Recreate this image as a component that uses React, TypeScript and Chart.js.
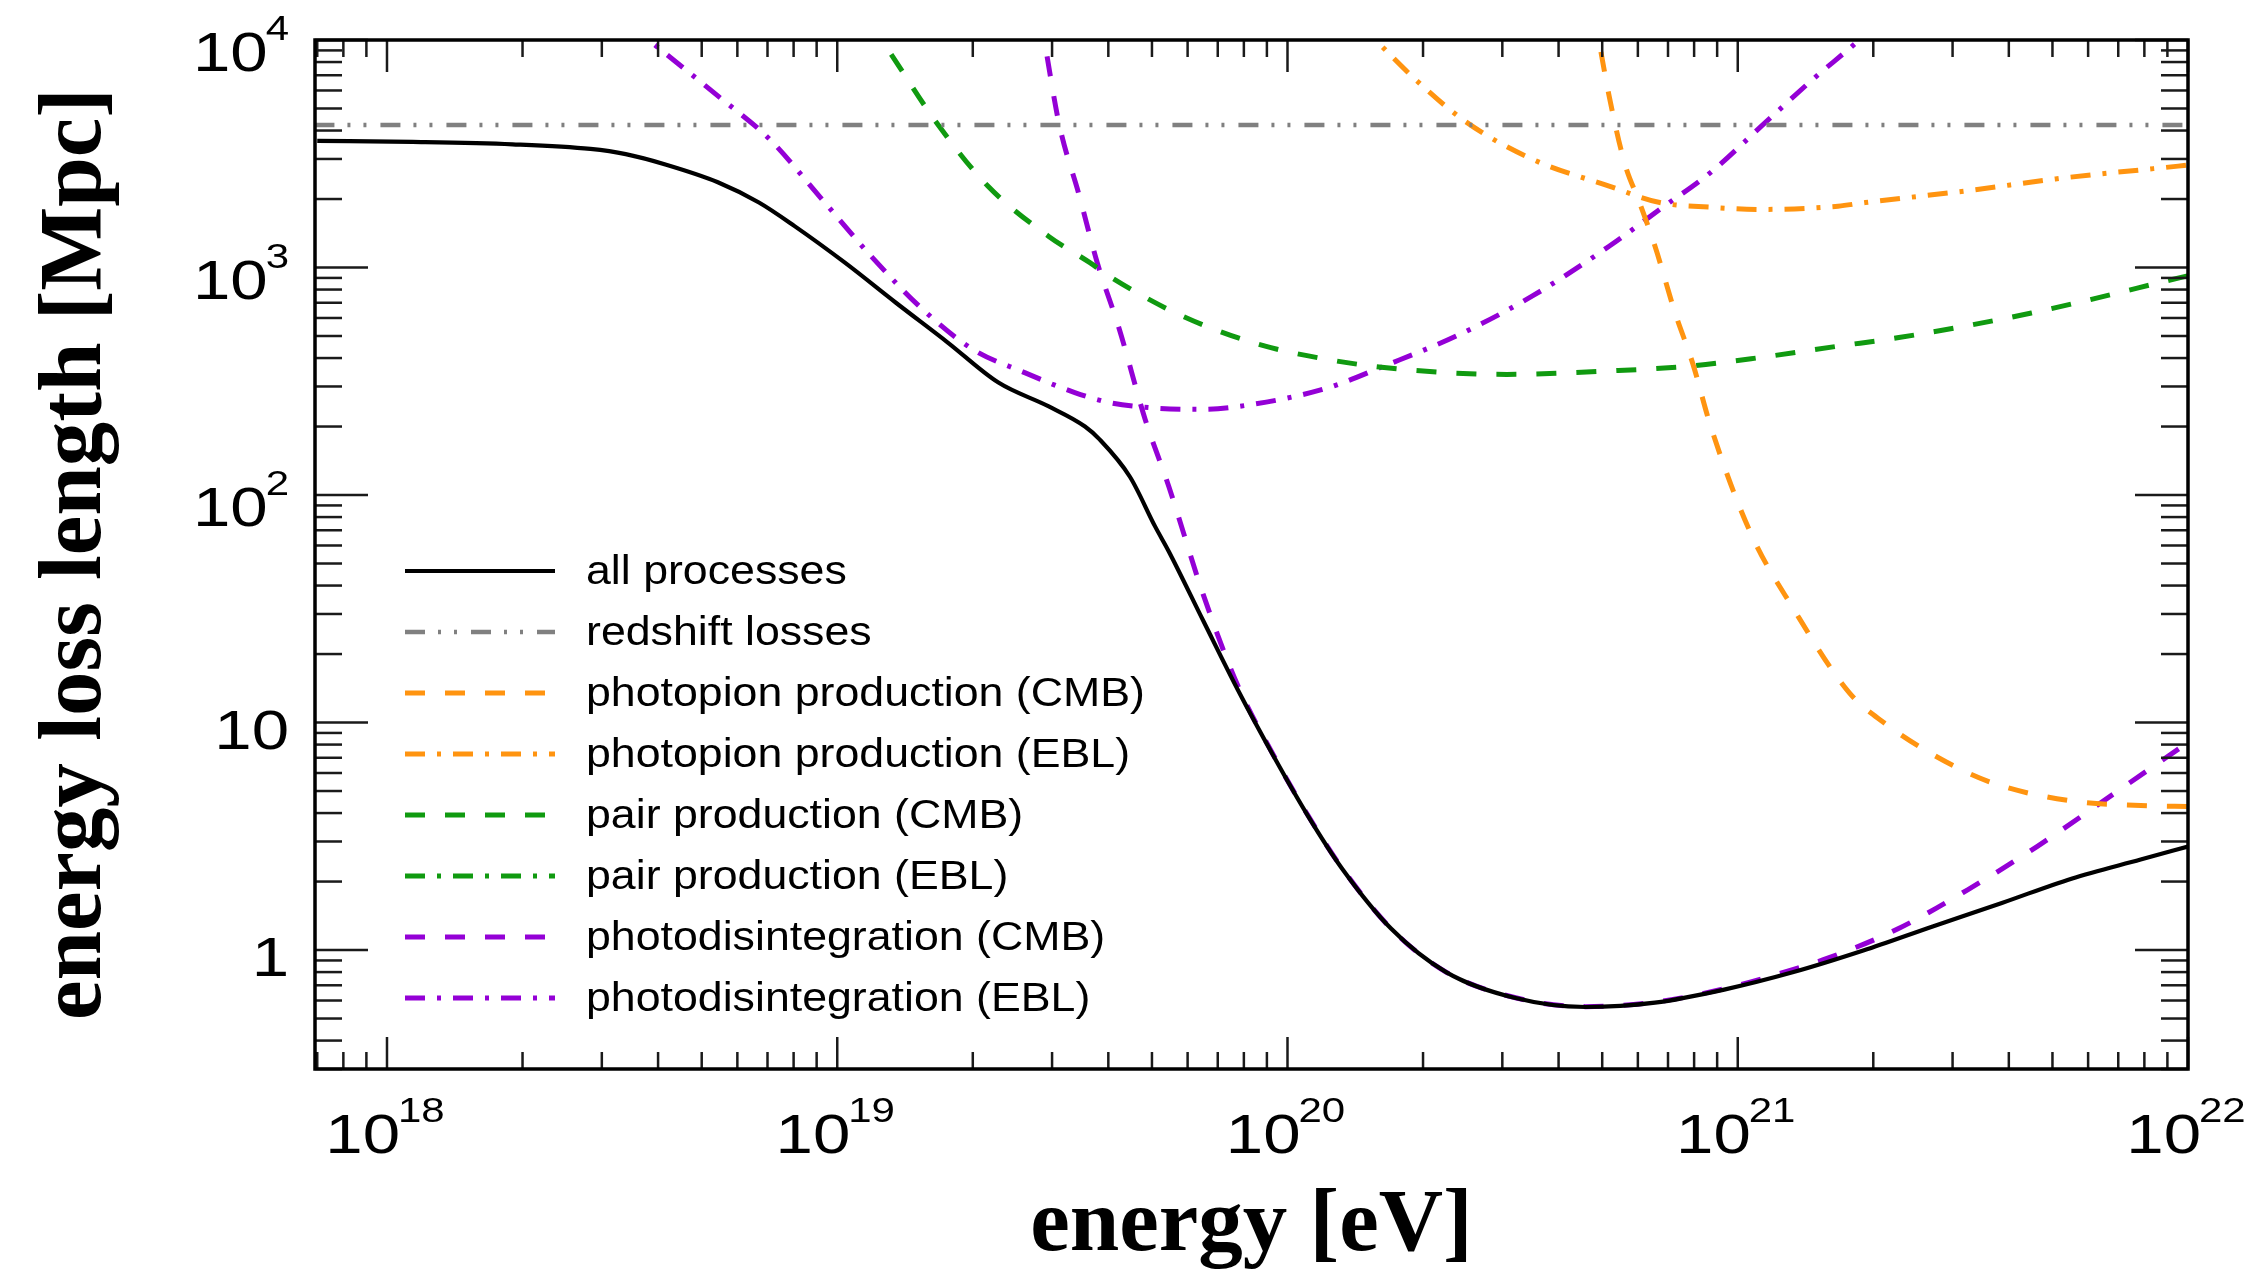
import React, { useEffect, useRef } from "react";
import { Chart, registerables } from "chart.js";

Chart.register(...registerables);

// ---------------- data (energy in eV, energy loss length in Mpc) ----------------
const allProcessesEnergy = [7.0e17, 1.14e18, 1.9e18, 2.83e18, 3.39e18, 4.17e18, 5.43e18, 6.7e18, 8.04e18, 1.04e19, 1.35e19, 1.76e19, 2.28e19, 2.95e19, 3.55e19, 3.82e19, 4.47e19, 5.08e19, 5.45e19, 6.5e19, 7.76e19, 9.29e19, 1.11e20, 1.32e20, 1.7e20, 2.25e20, 3.21e20, 4.59e20, 6.55e20, 9.33e20, 1.33e21, 1.9e21, 2.71e21, 3.86e21, 5.51e21, 7.85e21, 1e22];
const allProcessesLength = [3600, 3565, 3480, 3320, 3150, 2830, 2370, 1930, 1520, 1050, 700, 468, 312, 245, 200, 176, 120, 72.8, 56.5, 28, 13.9, 7.18, 3.89, 2.29, 1.24, 0.8, 0.615, 0.562, 0.587, 0.67, 0.8, 0.995, 1.27, 1.61, 2.06, 2.5, 2.85];

const redshiftEnergy = [6.9e17, 1e22];
const redshiftLength = [4235, 4235];

const photopionCmbEnergy = [4.79e20, 4.91e20, 5.18e20, 5.6e20, 6.05e20, 6.55e20, 7.26e20, 7.94e20, 8.71e20, 1.07e21, 1.33e21, 1.77e21, 2.11e21, 2.71e21, 3.61e21, 5.51e21, 7.85e21, 1e22];
const photopionCmbLength = [13200, 10070, 5680, 2900, 1930, 1240, 631, 380, 200, 67.6, 31.6, 13.5, 10, 7.24, 5.5, 4.52, 4.32, 4.27];

const photopionEblEnergy = [1.45e20, 1.55e20, 1.92e20, 2.49e20, 3.5e20, 5.18e20, 6.71e20, 8.71e20, 1.13e21, 1.67e21, 1.92e21, 3.2e21, 5.33e21, 9.51e21, 1e22];
const photopionEblLength = [11700, 10250, 6730, 4370, 2990, 2280, 1930, 1840, 1800, 1860, 1930, 2170, 2480, 2790, 2820];

const pairCmbEnergy = [1.17e19, 1.25e19, 1.67e19, 2.16e19, 2.95e19, 3.64e19, 4.02e19, 5.65e19, 8.36e19, 1.23e20, 1.82e20, 3.07e20, 5.18e20, 7.87e20, 1.13e21, 1.67e21, 2.28e21, 4.49e21, 1e22];
const pairCmbLength = [12000, 10070, 4270, 2280, 1370, 1050, 916, 631, 468, 394, 356, 339, 351, 369, 403, 451, 492, 631, 920];

// pair production on the EBL stays above the plotted range
const pairEblEnergy: number[] = [];
const pairEblLength: number[] = [];

const photodisCmbEnergy = [2.82e19, 2.88e19, 3.11e19, 3.45e19, 3.78e19, 4.23e19, 4.83e19, 5.45e19, 6.5e19, 7.76e19, 9.29e19, 1.11e20, 1.32e20, 1.7e20, 2.25e20, 3.21e20, 4.59e20, 6.55e20, 9.33e20, 1.33e21, 1.59e21, 2.27e21, 3.24e21, 4.62e21, 6.59e21, 1e22];
const photodisCmbLength = [12600, 10070, 4270, 2060, 1050, 537, 215, 109, 36.5, 14.5, 7.24, 3.91, 2.3, 1.24, 0.8, 0.617, 0.564, 0.59, 0.676, 0.822, 0.923, 1.24, 1.84, 2.85, 4.62, 8.18];

const photodisEblEnergy = [3.47e18, 3.77e18, 5.43e18, 7.08e18, 9.12e18, 1.19e19, 1.54e19, 2.0e19, 2.59e19, 3.37e19, 4.02e19, 4.95e19, 6.43e19, 8.32e19, 1.23e20, 1.64e20, 2.37e20, 3.5e20, 5.18e20, 6.71e20, 8.71e20, 1.13e21, 1.47e21, 1.85e21, 2.0e21];
const photodisEblLength = [11700, 10200, 5680, 3660, 2060, 1120, 661, 437, 347, 282, 255, 242, 238, 250, 296, 369, 500, 750, 1240, 1800, 2620, 4190, 6730, 9910, 11500];

const seriesLabels = [
  "all processes",
  "redshift losses",
  "photopion production (CMB)",
  "photopion production (EBL)",
  "pair production (CMB)",
  "pair production (EBL)",
  "photodisintegration (CMB)",
  "photodisintegration (EBL)",
];

const xTickValues = [1e18, 1e19, 1e20, 1e21, 1e22];
const xTickExponents = ["18", "19", "20", "21", "22"];
const yTickValues = [1, 10, 100, 1000, 10000];
const yTickBases = ["1", "10", "10", "10", "10"];
const yTickExponents = ["", "", "2", "3", "4"];

const xAxisTitle = "energy [eV]";
const yAxisTitle = "energy loss length [Mpc]";

// ---------------- styles ----------------
const ORANGE = "#ff9410";
const GREEN = "#109a10";
const PURPLE = "#9400d6";
const GRAY = "#808080";
const DASH = [20, 20];
const DASHDOT = [20, 12, 4, 12];
const DASHDOTDOT = [20, 13, 3, 13, 3, 14];

const SANS = "'Liberation Sans', Arial, Helvetica, sans-serif";
const SERIF = "'Liberation Serif', 'Times New Roman', serif";

const toPoints = (xs: number[], ys: number[]) => xs.map((x, i) => ({ x, y: ys[i] }));

const overlayPlugin = {
  id: "physicsOverlay",
  afterDatasetsDraw(chart: any) {
    const ctx: CanvasRenderingContext2D = chart.ctx;
    const a = chart.chartArea;
    const xs = chart.scales.x;
    const ys = chart.scales.y;
    ctx.save();
    ctx.setLineDash([]);

    const seg = (x1: number, y1: number, x2: number, y2: number) => {
      ctx.beginPath();
      ctx.moveTo(x1, y1);
      ctx.lineTo(x2, y2);
      ctx.stroke();
    };

    // inward ticks on all sides
    ctx.strokeStyle = "#1a1a1a";
    ctx.lineWidth = 2.5;
    for (let d = 17; d <= 22; d++) {
      for (let m = 1; m <= 9; m++) {
        const v = m * Math.pow(10, d);
        if (v < xs.min * 0.999 || v > xs.max * 1.001) continue;
        const px = xs.getPixelForValue(v);
        const len = m === 1 ? 32 : 17;
        seg(px, a.bottom, px, a.bottom - len);
        seg(px, a.top, px, a.top + len);
      }
    }
    for (let d = -1; d <= 4; d++) {
      for (let m = 1; m <= 9; m++) {
        const v = m * Math.pow(10, d);
        if (v < ys.min * 0.999 || v > ys.max * 1.001) continue;
        const py = ys.getPixelForValue(v);
        const len = m === 1 ? 53 : 27;
        seg(a.left, py, a.left + len, py);
        seg(a.right, py, a.right - len, py);
      }
    }

    // frame
    ctx.strokeStyle = "#000";
    ctx.lineWidth = 3.5;
    ctx.strokeRect(a.left, a.top, a.right - a.left, a.bottom - a.top);

    // tick labels
    ctx.fillStyle = "#000";
    ctx.textAlign = "left";
    ctx.textBaseline = "alphabetic";
    const HS = 1.2;
    const drawSci = (base: string, exp: string, x: number, y: number, align: string) => {
      ctx.font = `56px ${SANS}`;
      const wb = ctx.measureText(base).width * HS;
      ctx.font = `35px ${SANS}`;
      const gap = -2;
      const we = exp ? ctx.measureText(exp).width * HS + gap : 0;
      const total = wb + we;
      const x0 = align === "center" ? x - total / 2 : x - total;
      ctx.save();
      ctx.translate(x0, y);
      ctx.scale(HS, 1);
      ctx.font = `56px ${SANS}`;
      ctx.fillText(base, 0, 0);
      ctx.restore();
      if (exp) {
        ctx.save();
        ctx.translate(x0 + wb + gap, y - 31);
        ctx.scale(HS, 1);
        ctx.font = `35px ${SANS}`;
        ctx.fillText(exp, 0, 0);
        ctx.restore();
      }
    };
    xTickValues.forEach((v, i) => {
      const px = xs.getPixelForValue(v);
      drawSci("10", xTickExponents[i], px - 2, 1153, "center");
    });
    yTickValues.forEach((v, i) => {
      const py = ys.getPixelForValue(v);
      const hasExp = yTickExponents[i] !== "";
      drawSci(yTickBases[i], yTickExponents[i], 289, py + (hasExp ? 31 : 26), "right");
    });

    // axis titles
    ctx.font = `bold 89px ${SERIF}`;
    ctx.textAlign = "center";
    ctx.fillText(xAxisTitle, (a.left + a.right) / 2, 1250);
    ctx.save();
    ctx.translate(100, 554);
    ctx.rotate(-Math.PI / 2);
    ctx.fillText(yAxisTitle, 0, 0);
    ctx.restore();

    // legend
    const LH = 1.09;
    chart.data.datasets.forEach((ds: any, i: number) => {
      const y = 571 + i * 61;
      ctx.save();
      ctx.strokeStyle = ds.borderColor;
      ctx.lineWidth = ds.borderWidth;
      ctx.setLineDash(ds.borderDash || []);
      seg(405, y, 555, y);
      ctx.restore();
      ctx.save();
      ctx.translate(586, y + 13);
      ctx.scale(LH, 1);
      ctx.font = `41px ${SANS}`;
      ctx.textAlign = "left";
      ctx.fillStyle = "#000";
      ctx.fillText(ds.label, 0, 0);
      ctx.restore();
    });

    ctx.restore();
  },
};

export default function App() {
  const canvasRef = useRef<HTMLCanvasElement | null>(null);

  useEffect(() => {
    const canvas = canvasRef.current;
    if (!canvas) return;
    const mk = (i: number, xsArr: number[], ysArr: number[], color: string, width: number, dash: number[]) => ({
      label: seriesLabels[i],
      data: toPoints(xsArr, ysArr),
      borderColor: color,
      backgroundColor: color,
      borderWidth: width,
      borderDash: dash,
      fill: false,
      pointRadius: 0,
      clip: 0,
      cubicInterpolationMode: "monotone",
    });
    const datasets = [
      mk(0, allProcessesEnergy, allProcessesLength, "#000000", 4.2, []),
      mk(1, redshiftEnergy, redshiftLength, GRAY, 4.5, DASHDOTDOT),
      mk(2, photopionCmbEnergy, photopionCmbLength, ORANGE, 5, DASH),
      mk(3, photopionEblEnergy, photopionEblLength, ORANGE, 5, DASHDOT),
      mk(4, pairCmbEnergy, pairCmbLength, GREEN, 5, DASH),
      mk(5, pairEblEnergy, pairEblLength, GREEN, 5, DASHDOT),
      mk(6, photodisCmbEnergy, photodisCmbLength, PURPLE, 5, DASH),
      mk(7, photodisEblEnergy, photodisEblLength, PURPLE, 5, DASHDOT),
    ];
    const chart = new Chart(canvas, {
      type: "line",
      data: { datasets } as any,
      options: {
        animation: false,
        responsive: false,
        devicePixelRatio: 1,
        layout: { padding: { left: 315, top: 40, right: 62, bottom: 203 } },
        plugins: {
          legend: { display: false },
          tooltip: { enabled: false },
          title: { display: false },
        },
        scales: {
          x: {
            type: "logarithmic",
            min: 6.92e17,
            max: 1e22,
            grid: { display: false, drawTicks: false },
            border: { display: false },
            ticks: { display: false },
          },
          y: {
            type: "logarithmic",
            min: 0.3,
            max: 1e4,
            grid: { display: false, drawTicks: false },
            border: { display: false },
            ticks: { display: false },
          },
        },
        elements: { point: { radius: 0 } },
      } as any,
      plugins: [overlayPlugin as any],
    });
    return () => chart.destroy();
  }, []);

  return (
    <div style={{ position: "fixed", left: 0, top: 0, width: 2250, height: 1272, background: "#fff" }}>
      <canvas ref={canvasRef} width={2250} height={1272} style={{ display: "block" }} />
    </div>
  );
}
